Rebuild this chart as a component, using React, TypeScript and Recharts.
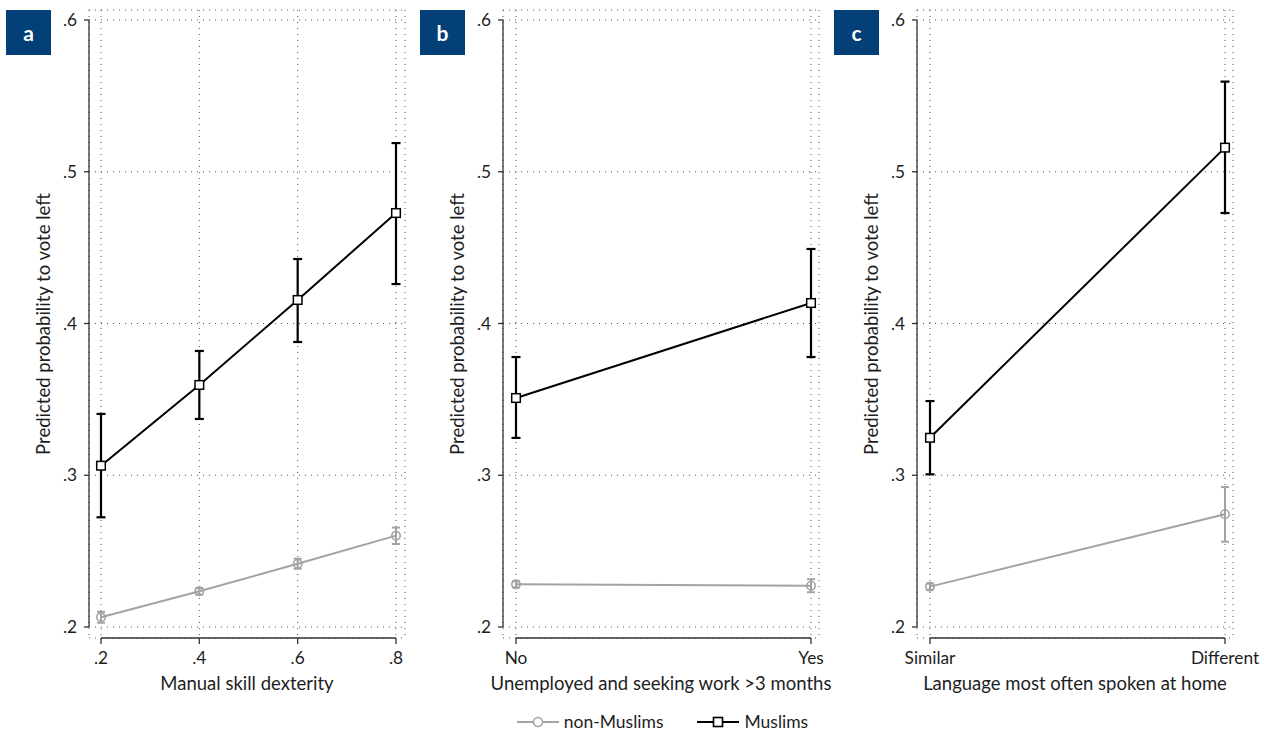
import React from "react";
import {
  LineChart,
  Line,
  XAxis,
  YAxis,
  CartesianGrid,
  ErrorBar,
  ReferenceLine,
} from "recharts";

// Panel a: manual skill dexterity
const dexterityLevels = [0.2, 0.4, 0.6, 0.8];
const dexterityNonMuslims = [0.2064, 0.2235, 0.2417, 0.2602];
const dexterityNonMuslimsLow = [0.2028, 0.2213, 0.2384, 0.2547];
const dexterityNonMuslimsHigh = [0.21, 0.2257, 0.245, 0.2655];
const dexterityMuslims = [0.3063, 0.3595, 0.4155, 0.4728];
const dexterityMuslimsLow = [0.2723, 0.3371, 0.3878, 0.426];
const dexterityMuslimsHigh = [0.3404, 0.3819, 0.4425, 0.5189];

// Panel b: unemployed and seeking work > 3 months
const unemployedLabels = ["No", "Yes"];
const unemployedNonMuslims = [0.2281, 0.2272];
const unemployedNonMuslimsLow = [0.2261, 0.2229];
const unemployedNonMuslimsHigh = [0.2301, 0.2315];
const unemployedMuslims = [0.3509, 0.4135];
const unemployedMuslimsLow = [0.3246, 0.3779];
const unemployedMuslimsHigh = [0.3779, 0.4491];

// Panel c: language spoken at home
const languageLabels = ["Similar", "Different"];
const languageNonMuslims = [0.2266, 0.2743];
const languageNonMuslimsLow = [0.2246, 0.2562];
const languageNonMuslimsHigh = [0.2286, 0.2922];
const languageMuslims = [0.3247, 0.5159];
const languageMuslimsLow = [0.3006, 0.4728];
const languageMuslimsHigh = [0.3489, 0.5594];

const yTicks = [0.2, 0.3, 0.4, 0.5, 0.6];

const FONT = "Lato, 'Open Sans', sans-serif";
const TEXT = "#1e1e1e";
const GREY = "#a3a3a3";
const BLACK = "#000";
const BADGE = "#034078";

const PLOT_W = 316;
const RIGHT_SPACE = 32;
const CHART_H = 700;
const Y_AXIS_W = 89;
const X_AXIS_H = 62;
const TOP = 10;
const CHART_W = Y_AXIS_W + PLOT_W + RIGHT_SPACE;
const PLOT_H = CHART_H - TOP - X_AXIS_H;

// Stata-style gap between the data range and the plot edge
const padDomain = (
  first: number,
  last: number,
  padLo: number,
  padHi: number,
  span: number
): [number, number] => {
  const perUnit = (span - padLo - padHi) / (last - first);
  return [first - padLo / perUnit, last + padHi / perUnit];
};

const yDomain = padDomain(0.2, 0.6, 11, 10, PLOT_H);

const buildRows = (
  xs: number[],
  non: number[],
  nonLo: number[],
  nonHi: number[],
  mus: number[],
  musLo: number[],
  musHi: number[]
) =>
  xs.map((x, i) => ({
    x,
    non: non[i],
    nonErr: [non[i] - nonLo[i], nonHi[i] - non[i]],
    mus: mus[i],
    musErr: [mus[i] - musLo[i], musHi[i] - mus[i]],
  }));

const fmtDecimal = (v: number) => {
  const s = (Math.round(v * 10) / 10).toFixed(1);
  return s.startsWith("0") ? s.slice(1) : s;
};

const HollowCircle = (props: any) => {
  const { cx, cy, index } = props;
  if (cx == null || cy == null) return <g key={`c-${index}`} />;
  return (
    <circle
      key={`c-${index}`}
      cx={cx}
      cy={cy}
      r={4.2}
      fill="none"
      stroke={GREY}
      strokeWidth={1.6}
    />
  );
};

const HollowSquare = (props: any) => {
  const { cx, cy, index } = props;
  if (cx == null || cy == null) return <g key={`s-${index}`} />;
  return (
    <rect
      key={`s-${index}`}
      x={cx - 4.3}
      y={cy - 4.3}
      width={8.6}
      height={8.6}
      fill="#fff"
      stroke={BLACK}
      strokeWidth={1.5}
    />
  );
};

type PanelProps = {
  left: number;
  letter: string;
  rows: ReturnType<typeof buildRows>;
  xTicks: number[];
  xFormat: (v: number) => string;
  xDomain: [number, number];
  xTitle: string;
};

const Panel = ({ left, letter, rows, xTicks, xFormat, xDomain, xTitle }: PanelProps) => (
  <>
    <div
      style={{
        position: "absolute",
        left: left + 6,
        top: 10,
        width: 45,
        height: 45,
        background: BADGE,
        color: "#fff",
        fontFamily: FONT,
        fontWeight: 700,
        fontSize: 21,
        display: "flex",
        alignItems: "center",
        justifyContent: "center",
      }}
    >
      {letter}
    </div>
    <div style={{ position: "absolute", left, top: 0 }}>
      <LineChart
        width={CHART_W}
        height={CHART_H}
        data={rows}
        margin={{ top: TOP, right: RIGHT_SPACE, bottom: 0, left: 0 }}
      >
        <CartesianGrid stroke="#555" strokeWidth={1} strokeDasharray="1 5" />
        <XAxis
          dataKey="x"
          type="number"
          domain={xDomain}
          allowDataOverflow
          ticks={xTicks}
          tickFormatter={xFormat}
          axisLine={false}
          tickLine={{ stroke: "#333", strokeWidth: 1.3 }}
          tickSize={6}
          tickMargin={8}
          height={X_AXIS_H}
          tick={{ fill: TEXT, fontSize: 17.3 }}
          label={{
            value: xTitle,
            position: "insideBottom",
            offset: 10,
            fill: TEXT,
            fontSize: 18.5,
          }}
        />
        <YAxis
          type="number"
          domain={yDomain}
          allowDataOverflow
          ticks={yTicks}
          tickFormatter={fmtDecimal}
          axisLine={false}
          tickLine={{ stroke: "#333", strokeWidth: 1.3 }}
          tickSize={5}
          tickMargin={7}
          width={Y_AXIS_W}
          tick={{ fill: TEXT, fontSize: 17.3 }}
          label={{
            value: "Predicted probability to vote left",
            angle: -90,
            position: "insideLeft",
            offset: 43,
            fill: TEXT,
            fontSize: 18.5,
            style: { textAnchor: "middle" },
          }}
        />
        {/* offset axis lines spanning only the tick range */}
        <ReferenceLine
          segment={[
            { x: xTicks[0], y: yDomain[0] },
            { x: xTicks[xTicks.length - 1], y: yDomain[0] },
          ]}
          stroke="#333"
          strokeWidth={1.3}
          ifOverflow="visible"
        />
        <ReferenceLine
          segment={[
            { x: xDomain[0], y: yTicks[0] },
            { x: xDomain[0], y: yTicks[yTicks.length - 1] },
          ]}
          stroke="#333"
          strokeWidth={1.3}
          ifOverflow="visible"
        />
        <Line
          dataKey="non"
          stroke={GREY}
          strokeWidth={2}
          dot={HollowCircle}
          activeDot={false}
          isAnimationActive={false}
        >
          <ErrorBar
            dataKey="nonErr"
            direction="y"
            width={4}
            stroke={GREY}
            strokeWidth={2}
            isAnimationActive={false}
          />
        </Line>
        <Line
          dataKey="mus"
          stroke={BLACK}
          strokeWidth={2}
          dot={HollowSquare}
          activeDot={false}
          isAnimationActive={false}
        >
          <ErrorBar
            dataKey="musErr"
            direction="y"
            width={4.5}
            stroke={BLACK}
            strokeWidth={2.2}
            isAnimationActive={false}
          />
        </Line>
      </LineChart>
    </div>
  </>
);

const dexterityRows = buildRows(
  dexterityLevels,
  dexterityNonMuslims,
  dexterityNonMuslimsLow,
  dexterityNonMuslimsHigh,
  dexterityMuslims,
  dexterityMuslimsLow,
  dexterityMuslimsHigh
);

const unemployedRows = buildRows(
  unemployedLabels.map((_, i) => i),
  unemployedNonMuslims,
  unemployedNonMuslimsLow,
  unemployedNonMuslimsHigh,
  unemployedMuslims,
  unemployedMuslimsLow,
  unemployedMuslimsHigh
);

const languageRows = buildRows(
  languageLabels.map((_, i) => i),
  languageNonMuslims,
  languageNonMuslimsLow,
  languageNonMuslimsHigh,
  languageMuslims,
  languageMuslimsLow,
  languageMuslimsHigh
);

const LegendItem = ({ marker, color, label }: { marker: "circle" | "square"; color: string; label: string }) => (
  <div style={{ display: "flex", alignItems: "center", gap: 5 }}>
    <svg width={42} height={14}>
      <line x1={0} y1={7} x2={42} y2={7} stroke={color} strokeWidth={2} />
      {marker === "circle" ? (
        <circle cx={21} cy={7} r={4.5} fill="#fff" stroke={color} strokeWidth={1.6} />
      ) : (
        <rect x={16.5} y={2.5} width={9} height={9} fill="#fff" stroke={color} strokeWidth={1.6} />
      )}
    </svg>
    <span>{label}</span>
  </div>
);

export default function App() {
  const numericDomain = padDomain(0.2, 0.8, 12, 9, PLOT_W);
  const binaryDomain = padDomain(0, 1, 13, 8, PLOT_W);
  return (
    <div
      style={{
        position: "absolute",
        left: 0,
        top: 0,
        width: 1267,
        height: 735,
        background: "#fff",
        fontFamily: FONT,
        color: TEXT,
        overflow: "hidden",
      }}
    >
      <Panel
        left={0}
        letter="a"
        rows={dexterityRows}
        xTicks={dexterityLevels}
        xFormat={fmtDecimal}
        xDomain={numericDomain}
        xTitle="Manual skill dexterity"
      />
      <Panel
        left={414}
        letter="b"
        rows={unemployedRows}
        xTicks={[0, 1]}
        xFormat={(v) => unemployedLabels[v] ?? ""}
        xDomain={binaryDomain}
        xTitle="Unemployed and seeking work >3 months"
      />
      <Panel
        left={828}
        letter="c"
        rows={languageRows}
        xTicks={[0, 1]}
        xFormat={(v) => languageLabels[v] ?? ""}
        xDomain={binaryDomain}
        xTitle="Language most often spoken at home"
      />
      <div
        style={{
          position: "absolute",
          left: 0,
          width: 1267,
          top: 711,
          display: "flex",
          justifyContent: "center",
          gap: 34,
          fontSize: 17.5,
          paddingLeft: 58,
          boxSizing: "border-box",
        }}
      >
        <LegendItem marker="circle" color={GREY} label="non-Muslims" />
        <LegendItem marker="square" color={BLACK} label="Muslims" />
      </div>
    </div>
  );
}
